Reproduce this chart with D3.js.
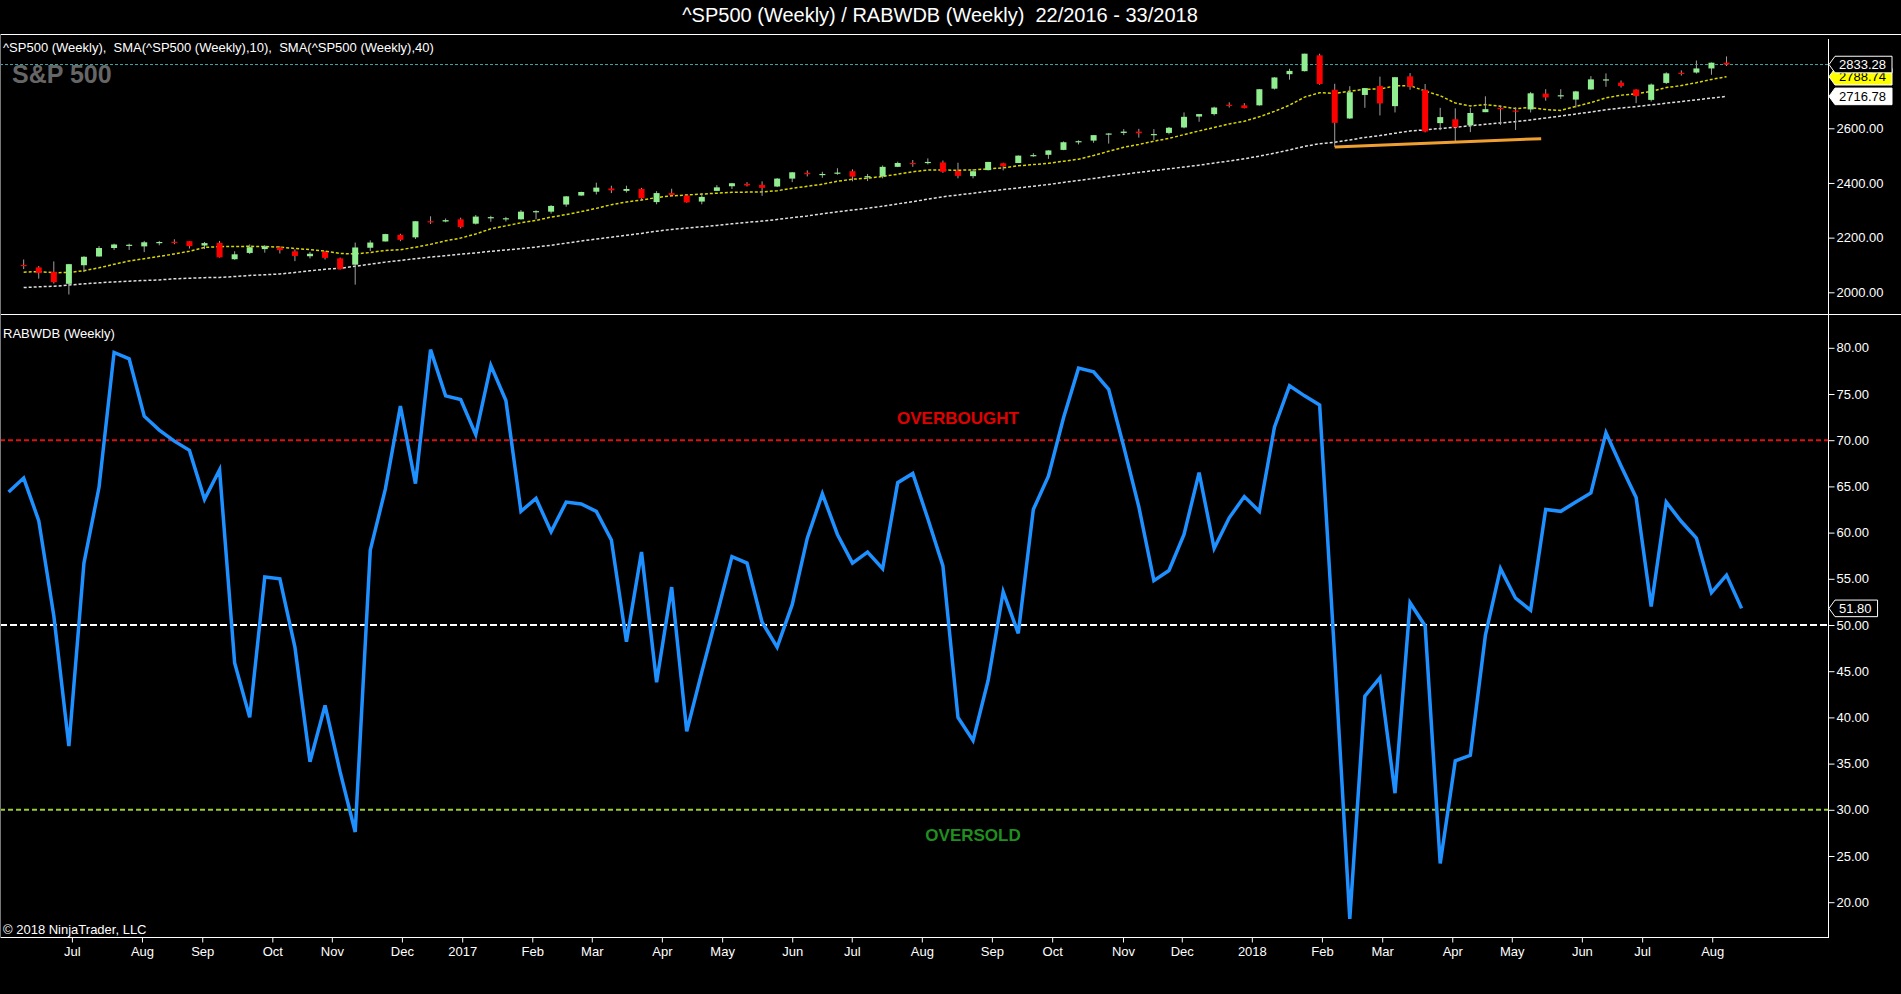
<!DOCTYPE html>
<html>
<head>
<meta charset="utf-8">
<script src="https://cdn.jsdelivr.net/npm/d3@7"></script>
<style>
  body { margin: 0; background: #000; }
  text { font-family: "Liberation Sans", Arial, sans-serif; white-space: pre; }
</style>
</head>
<body>
<div id="chart"></div>
<script>
// weekly bars, index 0 = week 22/2016 ... index 115 = week 33/2018
// S&P candles start at bar 1 and end at bar 114
const firstCandle = 1;

const candleOpen = [
  2100, 2091, 2075, 2031, 2099, 2131, 2162, 2173, 2168, 2183,
  2185, 2187, 2171, 2181, 2121, 2144, 2158, 2164, 2150, 2132,
  2148, 2124, 2101, 2163, 2186, 2210, 2201, 2260, 2259, 2267,
  2251, 2273, 2270, 2267, 2295, 2295, 2321, 2354, 2368, 2380,
  2371, 2378, 2330, 2363, 2354, 2332, 2371, 2388, 2397, 2393,
  2387, 2416, 2437, 2432, 2437, 2443, 2423, 2424, 2459, 2473,
  2476, 2475, 2444, 2425, 2447, 2472, 2473, 2501, 2503, 2521,
  2551, 2555, 2578, 2583, 2588, 2577, 2583, 2603, 2643, 2652,
  2686, 2684, 2684, 2745, 2798, 2809, 2867, 2741, 2636, 2722,
  2755, 2681, 2790, 2741, 2619, 2633, 2611, 2659, 2675, 2665,
  2669, 2727, 2717, 2705, 2742, 2778, 2767, 2742, 2704, 2766,
  2803, 2804, 2819, 2840
];
const candleHigh = [
  2120, 2096, 2113, 2104, 2132, 2169, 2178, 2178, 2188, 2188,
  2194, 2187, 2184, 2188, 2150, 2175, 2173, 2169, 2157, 2148,
  2152, 2127, 2182, 2190, 2214, 2214, 2260, 2278, 2270, 2273,
  2283, 2280, 2276, 2301, 2300, 2319, 2352, 2368, 2401, 2390,
  2390, 2382, 2370, 2379, 2358, 2361, 2392, 2400, 2403, 2406,
  2418, 2440, 2446, 2441, 2454, 2450, 2433, 2464, 2478, 2484,
  2490, 2482, 2474, 2451, 2477, 2474, 2501, 2509, 2520, 2552,
  2556, 2575, 2582, 2597, 2598, 2597, 2605, 2658, 2652, 2679,
  2695, 2692, 2744, 2787, 2818, 2873, 2873, 2763, 2754, 2747,
  2789, 2787, 2802, 2762, 2675, 2673, 2675, 2717, 2683, 2677,
  2733, 2743, 2743, 2737, 2791, 2801, 2775, 2743, 2764, 2805,
  2812, 2848, 2841, 2863
];
const candleLow = [
  2085, 2050, 2032, 1992, 2074, 2131, 2155, 2155, 2147, 2172,
  2176, 2160, 2158, 2127, 2119, 2140, 2145, 2142, 2114, 2124,
  2120, 2083, 2028, 2151, 2186, 2187, 2195, 2250, 2256, 2234,
  2248, 2258, 2259, 2266, 2267, 2288, 2313, 2353, 2358, 2363,
  2365, 2335, 2322, 2352, 2328, 2322, 2371, 2378, 2387, 2353,
  2385, 2403, 2424, 2419, 2430, 2406, 2407, 2417, 2458, 2459,
  2468, 2437, 2417, 2417, 2446, 2446, 2473, 2496, 2488, 2520,
  2541, 2547, 2544, 2575, 2566, 2557, 2578, 2600, 2624, 2647,
  2676, 2673, 2683, 2742, 2778, 2808, 2759, 2532, 2634, 2675,
  2647, 2658, 2741, 2585, 2593, 2553, 2586, 2659, 2612, 2594,
  2658, 2701, 2707, 2676, 2741, 2752, 2749, 2692, 2698, 2762,
  2793, 2800, 2796, 2828
];
const candleClose = [
  2096, 2071, 2037, 2103, 2130, 2162, 2175, 2174, 2183, 2184,
  2184, 2169, 2180, 2128, 2139, 2165, 2168, 2154, 2133, 2141,
  2126, 2085, 2164, 2182, 2213, 2192, 2260, 2258, 2264, 2239,
  2277, 2275, 2271, 2295, 2297, 2316, 2351, 2367, 2383, 2373,
  2378, 2344, 2363, 2356, 2329, 2349, 2384, 2399, 2391, 2382,
  2416, 2439, 2432, 2433, 2438, 2423, 2425, 2459, 2473, 2472,
  2477, 2441, 2426, 2443, 2477, 2461, 2500, 2502, 2519, 2549,
  2553, 2575, 2581, 2588, 2582, 2579, 2602, 2642, 2652, 2676,
  2683, 2674, 2743, 2786, 2810, 2873, 2762, 2620, 2732, 2747,
  2691, 2787, 2752, 2588, 2641, 2604, 2656, 2670, 2670, 2663,
  2728, 2713, 2721, 2735, 2779, 2779, 2755, 2718, 2760, 2801,
  2802, 2819, 2840, 2833.28
];
const sma10 = [
  2073.6, 2075.9, 2071.5, 2072.6, 2079.1, 2089.6, 2102.4, 2114.6, 2123.0, 2131.5,
  2140.3, 2150.1, 2164.4, 2166.9, 2167.8, 2168.1, 2167.4, 2165.4, 2160.4, 2156.1,
  2150.3, 2141.9, 2140.3, 2145.7, 2153.1, 2155.8, 2165.0, 2175.4, 2188.5, 2198.3,
  2213.4, 2232.4, 2243.1, 2254.4, 2262.8, 2275.2, 2284.3, 2295.2, 2307.1, 2320.5,
  2330.6, 2337.5, 2346.7, 2352.8, 2356.0, 2359.3, 2362.6, 2365.8, 2366.6, 2367.5,
  2371.3, 2380.8, 2387.7, 2395.4, 2406.3, 2413.7, 2417.8, 2423.8, 2432.0, 2441.0,
  2447.1, 2447.3, 2446.7, 2447.7, 2451.6, 2455.4, 2462.9, 2467.2, 2471.8, 2479.5,
  2487.1, 2500.5, 2516.0, 2530.5, 2541.0, 2552.8, 2563.0, 2577.0, 2590.3, 2603.0,
  2616.0, 2625.9, 2642.1, 2661.9, 2684.7, 2714.1, 2730.1, 2727.9, 2735.9, 2743.0,
  2743.8, 2755.1, 2756.0, 2736.2, 2719.3, 2692.4, 2681.8, 2686.8, 2680.6, 2672.2,
  2675.9, 2668.5, 2665.4, 2680.1, 2693.9, 2711.4, 2721.3, 2726.1, 2735.1, 2748.9,
  2756.3, 2766.9, 2778.8, 2788.74
];
const sma40 = [
  2017.4, 2020.2, 2022.1, 2026.4, 2030.9, 2034.6, 2038.1, 2040.6, 2043.2, 2045.3,
  2049.4, 2051.4, 2053.6, 2054.5, 2057.7, 2061.7, 2064.3, 2067.1, 2072.4, 2078.9,
  2084.4, 2088.0, 2095.1, 2103.0, 2110.4, 2116.5, 2123.0, 2128.9, 2134.2, 2139.3,
  2144.4, 2150.1, 2154.8, 2159.9, 2165.7, 2172.2, 2179.8, 2187.7, 2194.8, 2201.6,
  2208.7, 2215.5, 2223.6, 2230.0, 2234.9, 2239.6, 2244.8, 2250.5, 2255.7, 2260.6,
  2266.4, 2273.2, 2279.5, 2287.1, 2294.6, 2301.0, 2307.4, 2315.1, 2323.6, 2331.8,
  2340.6, 2349.5, 2356.1, 2362.6, 2369.2, 2375.9, 2381.9, 2388.0, 2394.4, 2402.1,
  2409.0, 2416.5, 2424.3, 2431.6, 2438.7, 2445.3, 2451.6, 2458.5, 2465.2, 2472.8,
  2480.4, 2488.6, 2498.1, 2508.9, 2520.9, 2534.0, 2543.5, 2549.0, 2557.5, 2566.6,
  2573.5, 2582.2, 2590.2, 2594.1, 2599.2, 2603.7, 2609.5, 2614.7, 2619.7, 2624.4,
  2630.7, 2637.5, 2644.9, 2652.2, 2659.7, 2667.7, 2674.1, 2679.5, 2685.5, 2691.8,
  2698.0, 2704.1, 2710.6, 2716.78
];

// RABWDB oscillator, bars 0..115
const rabwdb = [
  64.4, 65.9, 61.3, 51.0, 36.9, 56.7, 64.9, 79.5, 78.8, 72.6,
  71.1, 69.9, 68.9, 63.6, 66.8, 45.9, 40.0, 55.2, 55.0, 47.6,
  35.2, 41.3, 34.1, 27.6, 58.1, 64.7, 73.7, 65.3, 79.8, 74.8,
  74.4, 70.6, 78.1, 74.3, 62.3, 63.7, 60.1, 63.3, 63.1, 62.3,
  59.2, 48.2, 57.9, 43.8, 54.1, 38.5, 44.9, 51.1, 57.4, 56.7,
  50.3, 47.6, 52.2, 59.4, 64.2, 59.8, 56.7, 57.9, 56.1, 65.4,
  66.4, 61.5, 56.4, 40.0, 37.5, 44.0, 53.6, 49.1, 62.5, 66.1,
  72.4, 77.8, 77.4, 75.5, 69.3, 62.8, 54.8, 55.9, 59.8, 66.5,
  58.3, 61.6, 63.9, 62.3, 71.4, 75.9, 74.8, 73.8, 46.5, 18.2,
  42.3, 44.3, 31.8, 52.4, 49.9, 24.2, 35.3, 35.9, 48.9, 56.1,
  52.9, 51.6, 62.5, 62.3, 63.3, 64.3, 70.8, 67.2, 63.8, 52.0,
  63.3, 61.2, 59.4, 53.5, 55.4, 51.8
];

const oscLevels = [70, 50, 30];
const priceTicks = [2000, 2200, 2400, 2600];
const oscTicks = [20, 25, 30, 35, 40, 45, 50, 55, 60, 65, 70, 75, 80];

// orange support line drawn on the chart (bar, price)
const trendBars = [88, 101.7];
const trendVals = [2532, 2562];

// month labels sit at these (fractional) bar positions
const monthTickPos = [4.2, 8.85, 12.85, 17.5, 21.45, 26.1, 30.1, 34.75, 38.7, 43.35, 47.35, 52, 55.95,
  60.6, 65.25, 69.25, 73.95, 77.85, 82.5, 87.15, 91.15, 95.8, 99.75, 104.4, 108.4, 113.05];
const monthTickLabels = ["Jul", "Aug", "Sep", "Oct", "Nov", "Dec", "2017", "Feb", "Mar", "Apr", "May", "Jun", "Jul",
  "Aug", "Sep", "Oct", "Nov", "Dec", "2018", "Feb", "Mar", "Apr", "May", "Jun", "Jul", "Aug"];

let width = 1901;
let height = 994;
let axisX = 1828.5;

let svg = d3.select("#chart")
  .append("svg")
  .attr("width", width)
  .attr("height", height)
  .style("background", "#000")
  .style("display", "block");

let xScale = d3.scaleLinear().domain([0, 115]).range([8.6, 1741.6]);
let yTop = d3.scaleLinear().domain([2000, 2600]).range([292.3, 128.3]);
let yBot = d3.scaleLinear().domain([20, 80]).range([902.2, 347.8]);

let defs = svg.append("defs");
defs.append("clipPath").attr("id", "clipTop")
  .append("rect").attr("x", 1).attr("y", 35).attr("width", axisX - 1).attr("height", 279);
defs.append("clipPath").attr("id", "clipBot")
  .append("rect").attr("x", 1).attr("y", 315).attr("width", axisX - 1).attr("height", 622);

// title
svg.append("text")
  .attr("x", 940).attr("y", 22)
  .attr("text-anchor", "middle")
  .attr("fill", "#fff")
  .attr("font-size", "20px")
  .text("^SP500 (Weekly) / RABWDB (Weekly)  22/2016 - 33/2018");

// frame
svg.append("line").attr("x1", 0).attr("x2", width).attr("y1", 34.5).attr("y2", 34.5)
  .attr("stroke", "#fff").attr("stroke-width", 1);
svg.append("line").attr("x1", 0).attr("x2", width).attr("y1", 314.5).attr("y2", 314.5)
  .attr("stroke", "#fff").attr("stroke-width", 1);
svg.append("line").attr("x1", 0).attr("x2", axisX).attr("y1", 937.5).attr("y2", 937.5)
  .attr("stroke", "#fff").attr("stroke-width", 1);
svg.append("line").attr("x1", axisX).attr("x2", axisX).attr("y1", 39).attr("y2", 938)
  .attr("stroke", "#fff").attr("stroke-width", 1);
svg.append("line").attr("x1", 0.5).attr("x2", 0.5).attr("y1", 34).attr("y2", 938)
  .attr("stroke", "#777").attr("stroke-width", 1);

// ---------- top panel ----------
let topPanel = svg.append("g").attr("clip-path", "url(#clipTop)");

topPanel.append("text")
  .attr("x", 12).attr("y", 83)
  .attr("fill", "#666")
  .attr("font-size", "25px")
  .attr("font-weight", "bold")
  .text("S&P 500");

let lastClose = candleClose[candleClose.length - 1];

topPanel.append("line")
  .attr("x1", 0).attr("x2", axisX)
  .attr("y1", yTop(lastClose)).attr("y2", yTop(lastClose))
  .attr("stroke", "#3fa7a7").attr("stroke-width", 1)
  .attr("stroke-dasharray", "3,2");

let smaLine = d3.line()
  .x((d, k) => xScale(firstCandle + k))
  .y(d => yTop(d));

topPanel.append("path").datum(sma40)
  .attr("d", smaLine)
  .attr("fill", "none")
  .attr("stroke", "#e0e0e0").attr("stroke-width", 1.5)
  .attr("stroke-dasharray", "3,2");

topPanel.append("path").datum(sma10)
  .attr("d", smaLine)
  .attr("fill", "none")
  .attr("stroke", "#d8d800").attr("stroke-width", 1.5)
  .attr("stroke-dasharray", "3,2");

let candles = candleOpen.map((o, k) => ({
  bar: firstCandle + k, o: o, h: candleHigh[k], l: candleLow[k], c: candleClose[k]
}));

let cg = topPanel.append("g").selectAll("g").data(candles).join("g");

cg.append("line")
  .attr("x1", d => xScale(d.bar)).attr("x2", d => xScale(d.bar))
  .attr("y1", d => yTop(d.h)).attr("y2", d => yTop(d.l))
  .attr("stroke", "#a0a0a0").attr("stroke-width", 1);

cg.append("rect")
  .attr("x", d => xScale(d.bar) - 3)
  .attr("width", 6)
  .attr("y", d => yTop(Math.max(d.o, d.c)))
  .attr("height", d => Math.max(1.2, Math.abs(yTop(d.o) - yTop(d.c))))
  .attr("fill", d => d.c >= d.o ? "#90ee90" : "#ff0000");

topPanel.append("line")
  .attr("x1", xScale(trendBars[0])).attr("x2", xScale(trendBars[1]))
  .attr("y1", yTop(trendVals[0])).attr("y2", yTop(trendVals[1]))
  .attr("stroke", "#f0a030").attr("stroke-width", 3);

svg.append("text")
  .attr("x", 3).attr("y", 52)
  .attr("fill", "#fff")
  .attr("font-size", "13px")
  .text("^SP500 (Weekly),  SMA(^SP500 (Weekly),10),  SMA(^SP500 (Weekly),40)");

// ---------- bottom panel ----------
let botPanel = svg.append("g").attr("clip-path", "url(#clipBot)");

let levelColors = ["#e01010", "#ffffff", "#9acd32"];
let levelDash = ["5,3", "7,3", "5,3"];
botPanel.selectAll("line.level")
  .data(oscLevels)
  .join("line")
  .attr("class", "level")
  .attr("x1", 0).attr("x2", axisX)
  .attr("y1", d => yBot(d)).attr("y2", d => yBot(d))
  .attr("stroke", (d, i) => levelColors[i])
  .attr("stroke-width", 2)
  .attr("stroke-dasharray", (d, i) => levelDash[i]);

botPanel.append("text")
  .attr("x", xScale(63)).attr("y", yBot(71.75))
  .attr("text-anchor", "middle")
  .attr("fill", "#e00000")
  .attr("font-size", "17px").attr("font-weight", "bold")
  .text("OVERBOUGHT");

botPanel.append("text")
  .attr("x", xScale(64)).attr("y", yBot(26.6))
  .attr("text-anchor", "middle")
  .attr("fill", "#1f8f1f")
  .attr("font-size", "17px").attr("font-weight", "bold")
  .text("OVERSOLD");

botPanel.append("path").datum(rabwdb)
  .attr("d", d3.line().x((d, i) => xScale(i)).y(d => yBot(d)))
  .attr("fill", "none")
  .attr("stroke", "#1e90ff")
  .attr("stroke-width", 3.5)
  .attr("stroke-linejoin", "miter");

svg.append("text")
  .attr("x", 3).attr("y", 338)
  .attr("fill", "#fff")
  .attr("font-size", "13px")
  .text("RABWDB (Weekly)");

svg.append("text")
  .attr("x", 3).attr("y", 934)
  .attr("fill", "#fff")
  .attr("font-size", "13px")
  .text("\u00a9 2018 NinjaTrader, LLC");

// ---------- axes ----------
function styleAxis(g) {
  g.select(".domain").remove();
  g.selectAll(".tick line").attr("stroke", "#fff");
  g.selectAll(".tick text")
    .attr("fill", "#fff")
    .attr("font-size", "13px")
    .attr("font-family", "\"Liberation Sans\", Arial, sans-serif");
}

svg.append("g")
  .attr("transform", `translate(${axisX}, 0)`)
  .call(d3.axisRight(yTop).tickValues(priceTicks).tickSize(6).tickPadding(2).tickFormat(d3.format(".2f")))
  .call(styleAxis);

svg.append("g")
  .attr("transform", `translate(${axisX}, 0)`)
  .call(d3.axisRight(yBot).tickValues(oscTicks).tickSize(6).tickPadding(2).tickFormat(d3.format(".2f")))
  .call(styleAxis);

svg.append("g")
  .attr("transform", "translate(0, 937.5)")
  .call(d3.axisBottom(xScale).tickValues(monthTickPos).tickSize(5).tickPadding(4)
    .tickFormat((d, i) => monthTickLabels[i]))
  .call(styleAxis);

// ---------- last value markers ----------
function marker(y, label, fill, textColor) {
  let g = svg.append("g");
  let path = g.append("path");
  let t = g.append("text")
    .attr("x", 1839).attr("y", y)
    .attr("dy", "0.36em")
    .attr("fill", textColor)
    .attr("font-size", "13px")
    .text(label);
  let right = 1839 + t.node().getComputedTextLength() + 6;
  path.attr("d", `M${axisX + 0.5},${y} L1835,${y - 8.3} L${right},${y - 8.3} L${right},${y + 8.3} L1835,${y + 8.3} Z`)
    .attr("fill", fill)
    .attr("stroke", "#fff")
    .attr("stroke-width", 1);
}

let fmt = d3.format(".2f");
marker(yTop(sma40[sma40.length - 1]), fmt(sma40[sma40.length - 1]), "#ffffff", "#000");
marker(yTop(sma10[sma10.length - 1]), fmt(sma10[sma10.length - 1]), "#ffff00", "#000");
marker(yTop(lastClose), fmt(lastClose), "#000000", "#fff");
marker(yBot(rabwdb[rabwdb.length - 1]), fmt(rabwdb[rabwdb.length - 1]), "#000000", "#fff");
</script>
</body>
</html>
